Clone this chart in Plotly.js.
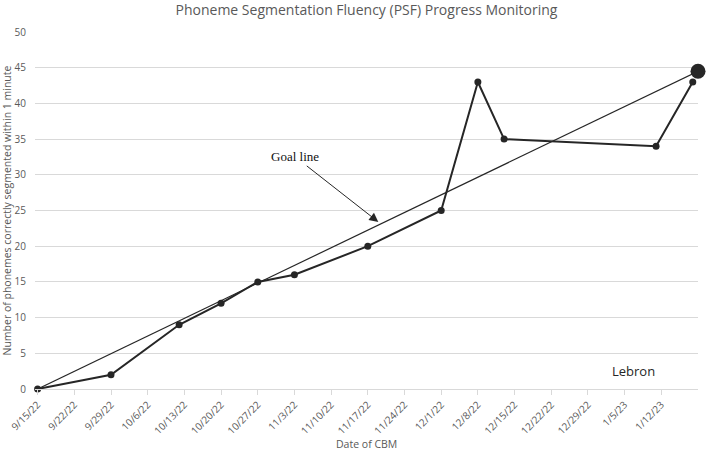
<!DOCTYPE html>
<html>
<head>
<meta charset="utf-8">
<script src="https://cdn.plot.ly/plotly-3.0.1.min.js"></script>
<style>html,body{margin:0;padding:0;background:#fff;}#chart{width:708px;height:451px;}</style>
</head>
<body>
<div id="chart"></div>
<script>
// Chart data
const cbmDates = ['2022-09-15','2022-09-29','2022-10-12','2022-10-20','2022-10-27','2022-11-03','2022-11-17','2022-12-01','2022-12-08','2022-12-13','2023-01-11','2023-01-18'];
const psfScores = [0, 2, 9, 12, 15, 16, 20, 25, 43, 35, 34, 43];
const goalDates = ['2022-09-15', '2023-01-19'];
const goalValues = [0, 44.5];
const tickDates = ['2022-09-15','2022-09-22','2022-09-29','2022-10-06','2022-10-13','2022-10-20','2022-10-27','2022-11-03','2022-11-10','2022-11-17','2022-11-24','2022-12-01','2022-12-08','2022-12-15','2022-12-22','2022-12-29','2023-01-05','2023-01-12'];
const tickLabels = ['9/15/22','9/22/22','9/29/22','10/6/22','10/13/22','10/20/22','10/27/22','11/3/22','11/10/22','11/17/22','11/24/22','12/1/22','12/8/22','12/15/22','12/22/22','12/29/22','1/5/23','1/12/23'];
const studentName = 'Lebron';

const ink = '#262626';
const grayText = '#595959';
const font = 'Open Sans, sans-serif';

const traces = [
  {
    x: goalDates, y: goalValues, type: 'scatter', mode: 'lines',
    line: {color: ink, width: 1.2}, hoverinfo: 'skip', showlegend: false, cliponaxis: false
  },
  {
    x: cbmDates, y: psfScores, type: 'scatter', mode: 'lines+markers',
    line: {color: ink, width: 2}, marker: {color: ink, size: 7}, showlegend: false, cliponaxis: false
  },
  {
    x: goalDates.slice(-1), y: goalValues.slice(-1), type: 'scatter', mode: 'markers',
    marker: {color: ink, size: 15}, showlegend: false, cliponaxis: false
  }
];

const layout = {
  width: 708, height: 451,
  margin: {l: 35, r: 10, t: 32, b: 62, pad: 0},
  paper_bgcolor: '#fff', plot_bgcolor: '#fff',
  font: {family: font, color: grayText},
  title: {
    text: 'Phoneme Segmentation Fluency (PSF) Progress Monitoring',
    font: {family: font, size: 14, color: grayText},
    x: 0.5, xref: 'paper', xanchor: 'center',
    y: 1 - 10/451, yref: 'container', yanchor: 'middle'
  },
  xaxis: {
    type: 'date',
    range: ['2022-09-14 12:00', '2023-01-19 00:00'],
    tickmode: 'array', tickvals: tickDates, ticktext: tickLabels,
    tickangle: -45, ticks: 'outside', ticklen: 5, tickcolor: '#d9d9d9',
    showline: true, linecolor: '#d9d9d9', linewidth: 1,
    showgrid: false, zeroline: false,
    tickfont: {family: font, size: 10, color: grayText},
    automargin: false
  },
  yaxis: {
    range: [0, 50], dtick: 5, tick0: 0,
    showgrid: true, gridcolor: '#d9d9d9', gridwidth: 1,
    zeroline: false, showline: false, ticks: '',
    ticklabelstandoff: 8,
    tickfont: {family: font, size: 10, color: grayText},
    automargin: false
  },
  annotations: [
    {
      text: 'Number of phonemes correctly segmented within 1 minute',
      xref: 'paper', yref: 'paper', x: (6 - 35) / 663, y: 0.5,
      xanchor: 'center', yanchor: 'middle', textangle: -90, showarrow: false,
      font: {family: font, size: 10.5, color: grayText}
    },
    {
      text: 'Date of CBM',
      xref: 'paper', yref: 'paper', x: 0.5, y: -(444 - 389) / 357,
      xanchor: 'center', yanchor: 'middle', showarrow: false,
      font: {family: font, size: 10.5, color: grayText}
    },
    {
      text: 'Goal line',
      xref: 'x', yref: 'y', x: '2022-11-19', y: 23.4,
      showarrow: true, ax: -83, ay: -65,
      arrowhead: 2, arrowsize: 1.8, arrowwidth: 1, arrowcolor: ink,
      font: {family: 'Liberation Serif, serif', size: 13, color: '#111'}
    },
    {
      text: studentName,
      xref: 'paper', yref: 'y', x: (633 - 35) / 663, y: 2.5,
      xanchor: 'center', yanchor: 'middle', showarrow: false,
      font: {family: font, size: 13, color: ink}
    }
  ]
};

Plotly.newPlot('chart', traces, layout, {displayModeBar: false, staticPlot: true});
</script>
</body>
</html>
